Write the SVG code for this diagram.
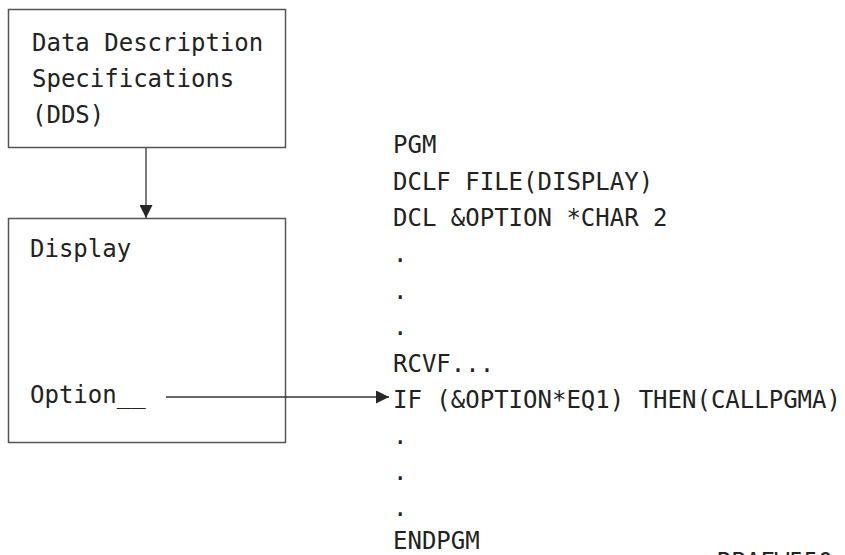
<svg xmlns="http://www.w3.org/2000/svg" width="845" height="555" viewBox="0 0 845 555">
<style>
  .box { fill: #ffffff; stroke: #555555; stroke-width: 1.5; }
  .t { font-family: "DejaVu Sans Mono", "Liberation Mono", monospace; font-size: 24px; fill: #222222; }
  .conn { stroke: #333333; stroke-width: 1.3; fill: none; }
</style>
<defs>
  <marker id="arr" viewBox="0 0 13 13" refX="13" refY="6.5" markerWidth="13" markerHeight="13" markerUnits="userSpaceOnUse" orient="auto">
    <path d="M0,0 L13,6.5 L0,13 Z" fill="#262626"/>
  </marker>
</defs>
<rect width="845" height="555" fill="#ffffff"/>
<g id="dds">
  <rect class="box" x="8.5" y="9.5" width="277" height="138"/>
  <text class="t" x="32" y="51">Data Description</text>
  <text class="t" x="32" y="87">Specifications</text>
  <text class="t" x="32" y="123">(DDS)</text>
</g>
<g id="display">
  <rect class="box" x="8.5" y="218.5" width="277" height="224"/>
  <text class="t" x="30" y="257">Display</text>
  <text class="t" x="30" y="403">Option__</text>
</g>
<g id="program">
  <text class="t" x="393" y="153">PGM</text>
  <text class="t" x="393" y="190">DCLF FILE(DISPLAY)</text>
  <text class="t" x="393" y="226">DCL &amp;OPTION *CHAR 2</text>
  <text class="t" x="393" y="262">.</text>
  <text class="t" x="393" y="299">.</text>
  <text class="t" x="393" y="335">.</text>
  <text class="t" x="393" y="372">RCVF...</text>
  <text class="t" x="393" y="408">IF (&amp;OPTION*EQ1) THEN(CALLPGMA)</text>
  <text class="t" x="393" y="444">.</text>
  <text class="t" x="393" y="480">.</text>
  <text class="t" x="393" y="516">.</text>
  <text class="t" x="393" y="549">ENDPGM</text>
</g>
<g id="figure-id">
  <text class="t" x="717" y="570" font-size="22">RBAFW550-0</text>
</g>
<g id="connectors">
  <line class="conn" x1="146" y1="148" x2="146" y2="218" marker-end="url(#arr)"/>
  <line class="conn" x1="166" y1="397" x2="389" y2="397" marker-end="url(#arr)"/>
</g>
</svg>
